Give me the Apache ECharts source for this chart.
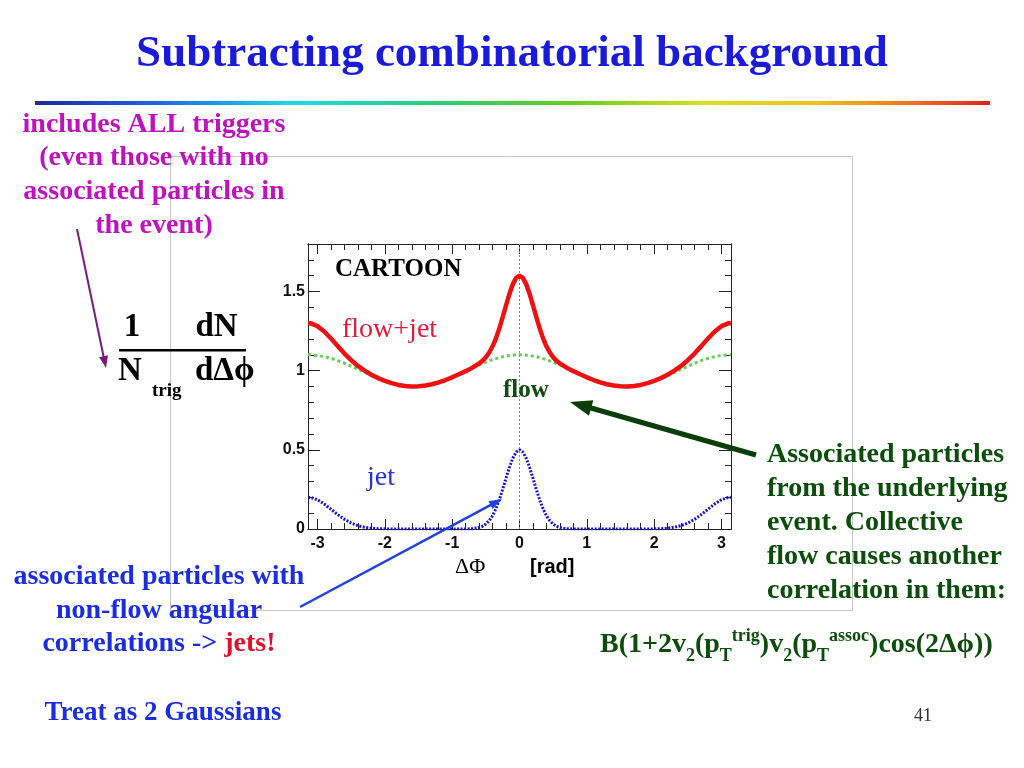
<!DOCTYPE html>
<html>
<head>
<meta charset="utf-8">
<script src="https://cdn.jsdelivr.net/npm/echarts@6/dist/echarts.min.js"></script>
<style>html,body{margin:0;padding:0;background:#fff;}#c{width:1024px;height:768px;}</style>
</head>
<body>
<div id="c"></div>
<script>
// ---- data ----
const dphi = [-3.14,-3.1,-3.0,-2.9,-2.8,-2.7,-2.6,-2.5,-2.4,-2.3,-2.2,-2.1,-2.0,-1.9,-1.8,-1.7,-1.6,-1.5,-1.4,-1.3,-1.2,-1.1,-1.0,-0.9,-0.8,-0.7,-0.6,-0.55,-0.5,-0.45,-0.4,-0.35,-0.3,-0.25,-0.2,-0.15,-0.1,-0.05,0,0.05,0.1,0.15,0.2,0.25,0.3,0.35,0.4,0.45,0.5,0.55,0.6,0.7,0.8,0.9,1.0,1.1,1.2,1.3,1.4,1.5,1.6,1.7,1.8,1.9,2.0,2.1,2.2,2.3,2.4,2.5,2.6,2.7,2.8,2.9,3.0,3.1,3.14];
const flowVals = [1.100,1.100,1.096,1.089,1.078,1.064,1.047,1.028,1.009,0.989,0.969,0.951,0.935,0.921,0.910,0.903,0.900,0.901,0.906,0.914,0.926,0.941,0.958,0.977,0.997,1.017,1.036,1.045,1.054,1.062,1.070,1.076,1.083,1.088,1.092,1.096,1.098,1.100,1.100,1.100,1.098,1.096,1.092,1.088,1.083,1.076,1.070,1.062,1.054,1.045,1.036,1.017,0.997,0.977,0.958,0.941,0.926,0.914,0.906,0.901,0.900,0.903,0.910,0.921,0.935,0.951,0.969,0.989,1.009,1.028,1.047,1.064,1.078,1.089,1.096,1.100,1.100];
const jetVals = [0.200,0.199,0.185,0.158,0.125,0.091,0.061,0.038,0.021,0.011,0.005,0.002,0.001,0.000,0.000,0.000,0.000,0.000,0.000,0.000,0.000,0.000,0.000,0.000,0.000,0.002,0.009,0.017,0.031,0.053,0.084,0.128,0.184,0.250,0.321,0.389,0.447,0.486,0.500,0.486,0.447,0.389,0.321,0.250,0.184,0.128,0.084,0.053,0.031,0.017,0.009,0.002,0.000,0.000,0.000,0.000,0.000,0.000,0.000,0.000,0.000,0.000,0.000,0.000,0.001,0.002,0.005,0.011,0.021,0.038,0.061,0.091,0.125,0.158,0.185,0.199,0.200];
const sumVals = [1.300,1.299,1.281,1.247,1.203,1.155,1.108,1.066,1.030,1.000,0.974,0.953,0.936,0.921,0.910,0.903,0.900,0.901,0.906,0.914,0.926,0.941,0.958,0.977,0.997,1.019,1.045,1.062,1.085,1.115,1.154,1.204,1.267,1.338,1.413,1.485,1.545,1.586,1.600,1.586,1.545,1.485,1.413,1.338,1.267,1.204,1.154,1.115,1.085,1.062,1.045,1.019,0.997,0.977,0.958,0.941,0.926,0.914,0.906,0.901,0.900,0.903,0.910,0.921,0.936,0.953,0.974,1.000,1.030,1.066,1.108,1.155,1.203,1.247,1.281,1.299,1.300];
const xMajorTicks = [-3,-2,-1,0,1,2,3];
const xMinorTicks = [-2.8,-2.6,-2.4,-2.2,-1.8,-1.6,-1.4,-1.2,-0.8,-0.6,-0.4,-0.2,0.2,0.4,0.6,0.8,1.2,1.4,1.6,1.8,2.2,2.4,2.6,2.8];
const yMajorTicks = [0,0.5,1,1.5];
const yMinorTicks = [0.1,0.2,0.3,0.4,0.6,0.7,0.8,0.9,1.1,1.2,1.3,1.4,1.6,1.7];
const xMin = -3.1416, xMax = 3.1416, yMin = 0, yMax = 1.8;

const pairs = vals => dphi.map((x, i) => [x, vals[i]]);

const SERIF = "'Liberation Serif','Times New Roman',serif";
const SANS = "'Liberation Sans',Arial,sans-serif";
const frameColor = '#222';

function xAx(pos, ticks, len, labels) {
  return {
    type: 'value', position: pos, min: xMin, max: xMax,
    axisLine: { show: true, onZero: false, lineStyle: { color: frameColor, width: 1 } },
    axisTick: { show: true, inside: true, length: len, customValues: ticks, lineStyle: { color: frameColor, width: 1 } },
    axisLabel: labels ? { show: true, customValues: ticks, margin: 7, color: '#111', fontFamily: SANS, fontWeight: 'bold', fontSize: 16 } : { show: false },
    splitLine: { show: false }
  };
}
function yAx(pos, ticks, len, labels) {
  return {
    type: 'value', position: pos, min: yMin, max: yMax,
    axisLine: { show: true, onZero: false, lineStyle: { color: frameColor, width: 1 } },
    axisTick: { show: true, inside: true, length: len, customValues: ticks, lineStyle: { color: frameColor, width: 1 } },
    axisLabel: labels ? { show: true, customValues: ticks, margin: 3, color: '#111', fontFamily: SANS, fontWeight: 'bold', fontSize: 16 } : { show: false },
    splitLine: { show: false }
  };
}

function arrow(x1, y1, x2, y2, color, w, hl, hw) {
  const dx = x2 - x1, dy = y2 - y1, L = Math.hypot(dx, dy), ux = dx / L, uy = dy / L;
  const bx = x2 - ux * hl, by = y2 - uy * hl, px = -uy, py = ux;
  return [
    { type: 'line', z: 100, shape: { x1: x1, y1: y1, x2: bx + ux * 2, y2: by + uy * 2 }, style: { stroke: color, lineWidth: w } },
    { type: 'polygon', z: 100, shape: { points: [[x2, y2], [bx + px * hw / 2, by + py * hw / 2], [bx - px * hw / 2, by - py * hw / 2]] }, style: { fill: color } }
  ];
}

function txt(text, x, y, font, fill, align, extra) {
  return Object.assign({ type: 'text', z: 100, style: { text: text, x: x, y: y, font: font, fill: fill, align: align || 'left', verticalAlign: 'middle' } }, extra || {});
}

const graphics = [
  { type: 'rect', z: -1, shape: { x: 170.5, y: 156.5, width: 682, height: 454 }, style: { fill: 'none', stroke: '#c8c8c8', lineWidth: 1 } },
  { type: 'rect', z: 1, shape: { x: 35, y: 101, width: 955, height: 4 },
    style: { fill: new echarts.graphic.LinearGradient(0, 0, 1, 0, [
      { offset: 0, color: '#1b2a9a' }, { offset: 0.12, color: '#2060e0' }, { offset: 0.27, color: '#20d8e8' },
      { offset: 0.43, color: '#30cc70' }, { offset: 0.56, color: '#66cc22' }, { offset: 0.7, color: '#d8e020' },
      { offset: 0.82, color: '#f0c020' }, { offset: 0.92, color: '#f07020' }, { offset: 1, color: '#e02020' }]) } },
  txt('Subtracting combinatorial background', 512, 54, 'bold 45px ' + SERIF, '#1a1adc', 'center'),
  { type: 'text', z: 100, style: { text: 'includes ALL triggers\n(even those with no\nassociated particles in\nthe event)', x: 154, y: 107.6, font: 'bold 28px ' + SERIF, fill: '#c010c0', align: 'center', verticalAlign: 'top', lineHeight: 33.7 } },
  txt('1', 132, 327, 'bold 33px ' + SERIF, '#000', 'center'),
  txt('dN', 216.5, 327, 'bold 33px ' + SERIF, '#000', 'center'),
  { type: 'rect', z: 100, shape: { x: 119, y: 349, width: 127, height: 2.5 }, style: { fill: '#000' } },
  txt('N', 118, 371, 'bold 33px ' + SERIF, '#000', 'left'),
  txt('trig', 152, 391.5, 'bold 19px ' + SERIF, '#000', 'left'),
  txt('d\u0394\u03d5', 195, 371, 'bold 33px ' + SERIF, '#000', 'left'),
  txt('CARTOON', 335, 269.5, 'bold 25px ' + SERIF, '#000', 'left'),
  txt('flow+jet', 342, 329.5, '28px ' + SERIF, '#e31b3b', 'left'),
  txt('flow', 503, 390.5, 'bold 25px ' + SERIF, '#0d4d0d', 'left'),
  txt('jet', 367, 477.5, '28px ' + SERIF, '#2233dd', 'left'),
  txt('\u0394\u03a6', 455, 567.5, '22px ' + SERIF, '#000', 'left'),
  txt('[rad]', 530, 567, 'bold 20px ' + SANS, '#000', 'left'),
  { type: 'text', z: 100, style: { text: 'Associated particles\nfrom the underlying\nevent. Collective\nflow causes another\ncorrelation in them:', x: 767, y: 437.5, font: 'bold 28px ' + SERIF, fill: '#0b4d0b', align: 'left', verticalAlign: 'top', lineHeight: 34 } },
  { type: 'text', z: 100, style: {
      text: '{m|B(1+2v}{s|2}{m|(p}{s|T}{u|trig}{m|)v}{s|2}{m|(p}{s|T}{u|assoc}{m|)cos(2\u0394\u03d5))}',
      x: 600, y: 623.5, align: 'left', verticalAlign: 'top',
      rich: {
        m: { fontFamily: SERIF, fontWeight: 'bold', fontSize: 28, lineHeight: 42, verticalAlign: 'middle', fill: '#0b4d0b' },
        s: { fontFamily: SERIF, fontWeight: 'bold', fontSize: 18, lineHeight: 18, verticalAlign: 'bottom', fill: '#0b4d0b' },
        u: { fontFamily: SERIF, fontWeight: 'bold', fontSize: 18, lineHeight: 18, verticalAlign: 'top', padding: [4, 0, 0, 0], fill: '#0b4d0b' }
      } } },
  { type: 'text', z: 100, style: {
      text: '{b|associated particles with}\n{b|non-flow angular}\n{b|correlations -> }{r|jets!}',
      x: 159, y: 560.6, align: 'center', verticalAlign: 'top',
      rich: {
        b: { fontFamily: SERIF, fontWeight: 'bold', fontSize: 28, lineHeight: 33.2, fill: '#1a2ee0' },
        r: { fontFamily: SERIF, fontWeight: 'bold', fontSize: 28, lineHeight: 33.2, fill: '#e0102a' }
      } } },
  txt('Treat as 2 Gaussians', 163, 713, 'bold 27px ' + SERIF, '#1a2ee0', 'center'),
  txt('41', 923, 716, '18px ' + SERIF, '#333', 'center')
].concat(
  arrow(77, 229, 106, 368, '#7a1a7a', 2, 12, 9),
  arrow(756, 455, 570, 402, '#0a3d0a', 5, 22, 16),
  arrow(300, 607, 502, 499, '#2040e0', 2.5, 13, 9)
);

const chart = echarts.init(document.getElementById('c'), null, { renderer: 'canvas' });
chart.setOption({
  animation: false,
  backgroundColor: '#fff',
  grid: { left: 308, right: 293, top: 244, bottom: 239, containLabel: false },
  xAxis: [xAx('bottom', xMajorTicks, 10, true), xAx('bottom', xMinorTicks, 6, false), xAx('top', xMajorTicks, 10, false), xAx('top', xMinorTicks, 6, false)],
  yAxis: [yAx('left', yMajorTicks, 12, true), yAx('left', yMinorTicks, 6, false), yAx('right', yMajorTicks, 12, false), yAx('right', yMinorTicks, 6, false)],
  series: [
    { name: 'flow', type: 'line', xAxisIndex: 0, yAxisIndex: 0, data: pairs(flowVals), showSymbol: false, symbol: 'none', z: 3,
      lineStyle: { color: '#66cc55', width: 3, type: [3, 3] },
      markLine: { silent: true, symbol: 'none', label: { show: false }, lineStyle: { color: '#888', width: 1, type: [2, 2] }, data: [{ xAxis: 0 }] } },
    { name: 'jet', type: 'line', xAxisIndex: 0, yAxisIndex: 0, data: pairs(jetVals), showSymbol: false, symbol: 'none', z: 4,
      lineStyle: { color: '#1414d0', width: 3, type: [2, 1.5] } },
    { name: 'flow+jet', type: 'line', xAxisIndex: 0, yAxisIndex: 0, data: pairs(sumVals), showSymbol: false, symbol: 'none', z: 5,
      lineStyle: { color: '#ee1111', width: 4.5 } }
  ],
  graphic: graphics
});
</script>
</body>
</html>
